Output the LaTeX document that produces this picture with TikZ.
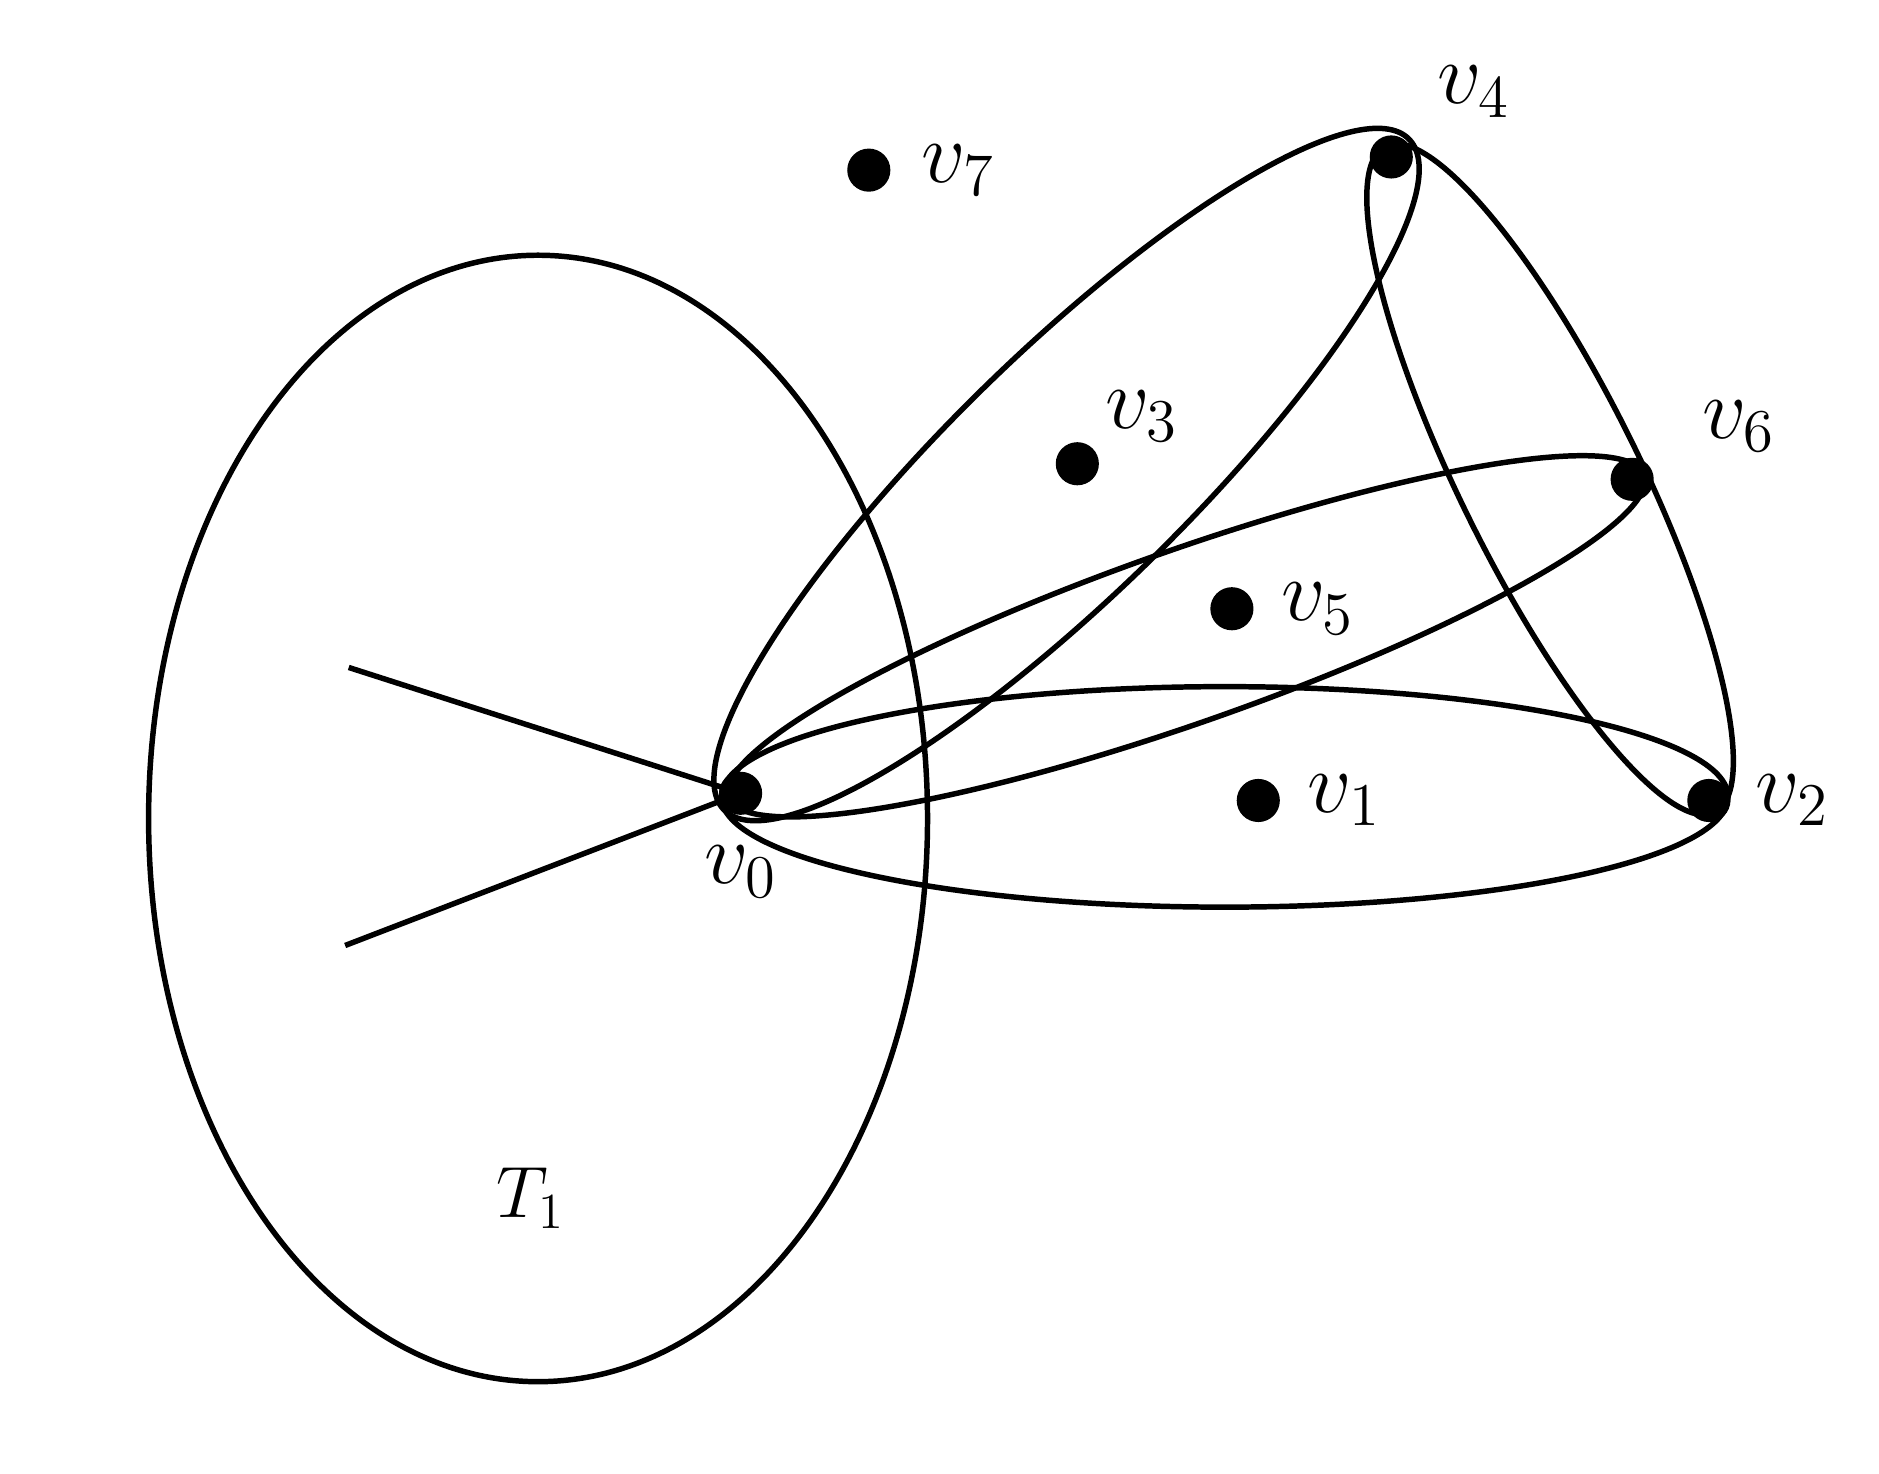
\documentclass[tikz,border=0pt]{standalone}
\usepackage{amsmath}
\usepackage{tikz}
\usetikzlibrary{positioning}

\begin{document}
\begin{tikzpicture}[line width=1.3pt,
      vert/.style={circle, fill=black, inner sep=0pt, minimum size=0.36cm},
      lab/.style={font=\fontsize{22}{26}\selectfont}]
      \useasboundingbox (0,0) rectangle (15.68,12.30);
      % vertices
      \node[vert] (v0) at (6.18,5.68) {};
      \node[vert] (v1) at (10.50,5.62) {};
      \node[vert] (v2) at (14.26,5.62) {};
      \node[vert] (v3) at (8.99,8.43) {};
      \node[vert] (v4) at (11.61,10.99) {};
      \node[vert] (v5) at (10.28,7.22) {};
      \node[vert] (v6) at (13.62,8.30) {};
      \node[vert] (v7) at (7.25,10.88) {};
      \node[lab, right=0.1cm of v7] {$v_7$};
      \node[lab, above right=0.05cm and 0.1cm of v4] {$v_4$};
      \node[lab, above right=-0.1cm and -0.05cm of v3] {$v_3$};
      \node[lab, above right=-0.05cm and 0.3cm of v6] {$v_6$};
      \node[lab, right=0.07cm of v5] {$v_5$};
      \node[lab, right=0.07cm of v1] {$v_1$};
      \node[lab, right=0.05cm of v2] {$v_2$};
      \node[lab, below=0.1cm of v0] {$v_0$};
      % the tree T1
      \draw (4.49,5.47) ellipse [x radius=3.25, y radius=4.70];
      \node[font=\fontsize{18}{22}\selectfont] (T1) at (4.43,2.30) {$T_1$};
      \coordinate (a) at (2.91,6.73);
      \coordinate (b) at (2.88,4.41);
      \draw (a) -- (v0.center) -- (b);
      % hyperedges
      \draw (8.90,8.34) ellipse [x radius=4.0, y radius=1.0, rotate=44.4];
      \draw (9.90,6.99) ellipse [x radius=4.05, y radius=0.72, rotate=19.4];
      \draw (10.22,5.65) ellipse [x radius=4.2, y radius=0.92];
      \draw (12.935,8.30) ellipse [x radius=3.1, y radius=0.75, rotate=116.3];
    \end{tikzpicture}
\end{document}
